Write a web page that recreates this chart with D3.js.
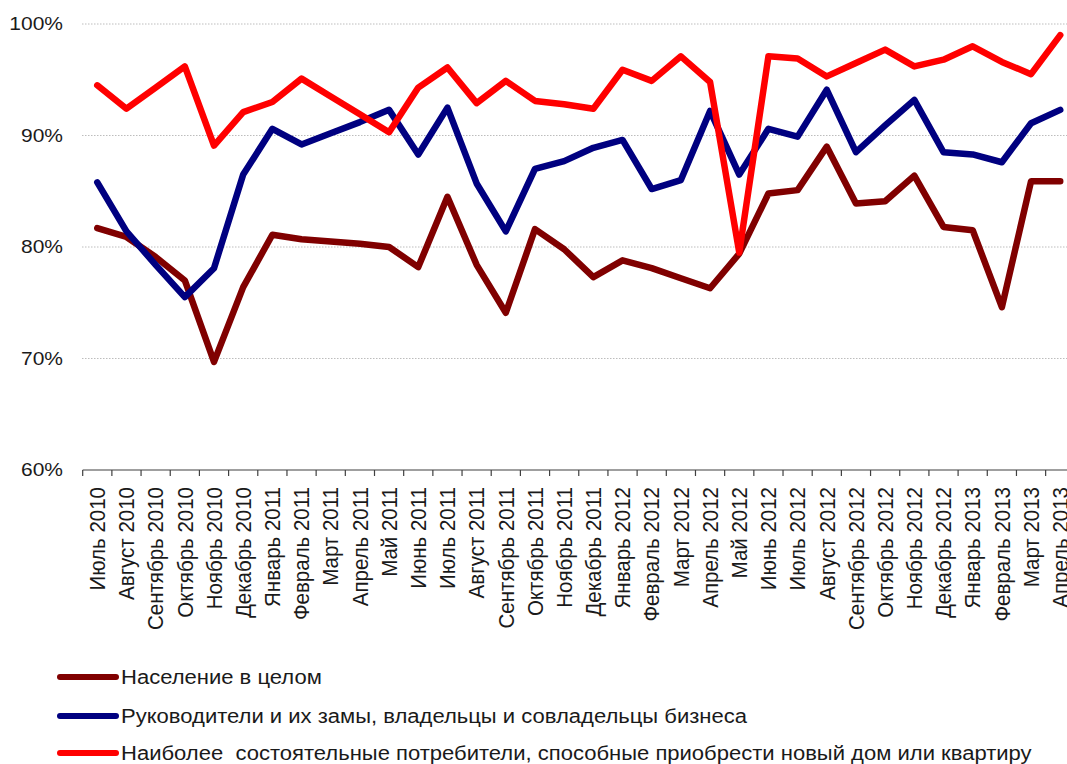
<!DOCTYPE html>
<html>
<head>
<meta charset="utf-8">
<script src="https://cdn.jsdelivr.net/npm/d3@7"></script>
<style>
  html, body { margin: 0; padding: 0; background: #fff; }
  svg { display: block; }
  text { font-family: "Liberation Sans", Arial, sans-serif; fill: #1a1a1a; }
</style>
</head>
<body>
<svg id="chart" width="1067" height="764"></svg>
<script>
const categories = [
  "Июль 2010","Август 2010","Сентябрь 2010","Октябрь 2010","Ноябрь 2010","Декабрь 2010",
  "Январь 2011","Февраль 2011","Март 2011","Апрель 2011","Май 2011","Июнь 2011",
  "Июль 2011","Август 2011","Сентябрь 2011","Октябрь 2011","Ноябрь 2011","Декабрь 2011",
  "Январь 2012","Февраль 2012","Март 2012","Апрель 2012","Май 2012","Июнь 2012",
  "Июль 2012","Август 2012","Сентябрь 2012","Октябрь 2012","Ноябрь 2012","Декабрь 2012",
  "Январь 2013","Февраль 2013","Март 2013","Апрель 2013"
];
const seriesNames = [
  "Население в целом",
  "Руководители и их замы, владельцы и совладельцы бизнеса",
  "Наиболее  состоятельные потребители, способные приобрести новый дом или квартиру"
];
const population = [81.7,80.9,79.1,77.0,69.7,76.4,81.1,80.7,80.5,80.3,80.0,78.2,
  84.5,78.4,74.1,81.6,79.8,77.3,78.8,78.1,77.2,76.3,79.4,84.8,
  85.1,89.0,83.9,84.1,86.4,81.8,81.5,74.6,85.9,85.9];
const managers = [85.8,81.4,78.4,75.5,78.1,86.5,90.6,89.2,90.2,91.2,92.3,88.3,
  92.5,85.7,81.4,87.0,87.7,88.9,89.6,85.2,86.0,92.2,86.5,90.6,
  89.9,94.1,88.5,90.9,93.2,88.5,88.3,87.6,91.1,92.3];
const wealthy = [94.5,92.4,94.3,96.2,89.1,92.1,93.0,95.1,93.5,91.9,90.3,94.3,
  96.1,92.9,94.9,93.1,92.8,92.4,95.9,94.9,97.1,94.8,79.5,97.1,
  96.9,95.3,96.5,97.7,96.2,96.8,98.0,96.6,95.5,99.0];
const yTicks = [0.6, 0.7, 0.8, 0.9, 1.0];
const colors = ["#800000", "#000080", "#ff0000"];

const svg = d3.select("#chart");

const x = d3.scaleBand().domain(categories).range([82.7, 82.7 + 34 * 29.18]).padding(0);
const y = d3.scaleLinear().domain([0.6, 1.0]).range([470, 24]);
const cx = c => x(c) + x.bandwidth() / 2;

// gridlines
svg.append("g").selectAll("line").data(yTicks.filter(t => t > 0.6)).join("line")
  .attr("x1", 82).attr("x2", 1067)
  .attr("y1", d => y(d)).attr("y2", d => y(d))
  .attr("stroke", "#bdbdbd").attr("stroke-width", 1).attr("stroke-dasharray", "1.5,1.5");

// y labels
const fmt = d3.format(".0%");
svg.append("g").selectAll("text").data(yTicks).join("text")
  .attr("transform", d => `translate(63,${y(d)}) scale(1.2,1)`)
  .attr("text-anchor", "end").attr("dy", "0.36em")
  .style("font-size", "17.5px")
  .text(d => fmt(d));

// x axis line + boundary ticks
const axisY = y(0.6);
svg.append("line").attr("x1", 82.7).attr("x2", 1067).attr("y1", axisY).attr("y2", axisY)
  .attr("stroke", "#404040").attr("stroke-width", 1.2);
const bounds = categories.map(c => x(c)).concat([x.range()[1]]);
svg.append("g").selectAll("line").data(bounds).join("line")
  .attr("x1", d => d).attr("x2", d => d).attr("y1", axisY).attr("y2", axisY + 6)
  .attr("stroke", "#404040").attr("stroke-width", 1.2);

// x labels
svg.append("g").selectAll("text").data(categories).join("text")
  .attr("transform", d => `translate(${cx(d)},${axisY + 17}) scale(1.05,1) rotate(-90)`)
  .attr("text-anchor", "end").attr("dy", "0.36em")
  .style("font-size", "20.5px")
  .text(d => d);

// lines
const data = [population, managers, wealthy];
const line = d3.line().x((d, i) => cx(categories[i])).y(d => y(d / 100));
svg.append("g").selectAll("path").data(data).join("path")
  .attr("d", d => line(d))
  .attr("fill", "none")
  .attr("stroke", (d, i) => colors[i])
  .attr("stroke-width", 6.5)
  .attr("stroke-linejoin", "round")
  .attr("stroke-linecap", "round");

// legend
const legendY = [677, 716, 753];
const lg = svg.append("g").selectAll("g").data(seriesNames).join("g")
  .attr("transform", (d, i) => `translate(0,${legendY[i]})`);
lg.append("line").attr("x1", 60).attr("x2", 116).attr("y1", 0).attr("y2", 0)
  .attr("stroke", (d, i) => colors[i]).attr("stroke-width", 6).attr("stroke-linecap", "round");
lg.append("text")
  .attr("transform", `translate(121,0) scale(1.13,1)`)
  .attr("dy", "0.36em")
  .style("font-size", "19.5px")
  .style("white-space", "pre")
  .attr("xml:space", "preserve")
  .text(d => d);
</script>
</body>
</html>
